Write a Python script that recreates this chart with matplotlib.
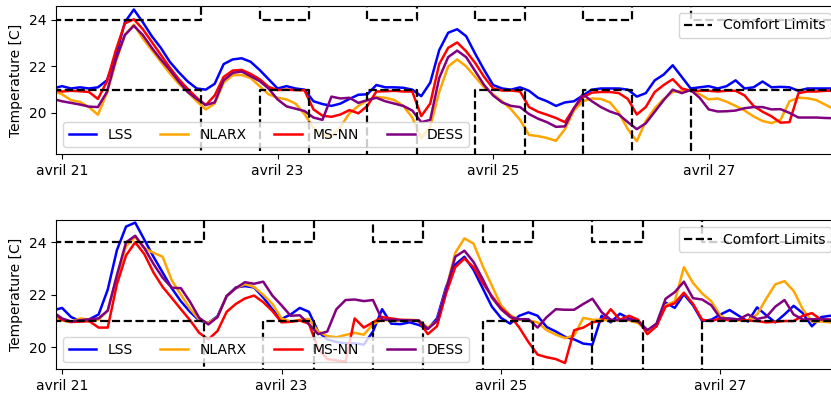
import numpy as np
import matplotlib
matplotlib.use("Agg")
import matplotlib.pyplot as plt

# time grid: hours after 21 April 00:00, one point every 2 h
hours = np.arange(-2, 176, 2)

# ---- upper panel ----
top_lss = [21.05, 21.15, 21.05, 21.1, 21.05, 21.1, 21.4, 22.45, 23.9, 24.45,
           23.9, 23.3, 22.8, 22.2, 21.75, 21.35, 21.05, 21.0, 21.25, 22.1,
           22.3, 22.35, 22.2, 21.85, 21.45, 21.05, 21.15, 21.05, 21.0, 20.5,
           20.38, 20.3, 20.4, 20.6, 20.78, 20.8, 21.2, 21.1, 21.1, 21.08,
           21.0, 20.72, 21.3, 22.7, 23.45, 23.6, 23.3, 22.55, 21.85, 21.2,
           21.05, 21.0, 21.1, 20.95, 20.65, 20.5, 20.3, 20.45, 20.5, 20.75,
           21.0, 21.05, 21.05, 21.05, 21.0, 20.7, 20.85, 21.4, 21.65, 22.05,
           21.55, 21.05, 21.1, 21.15, 21.05, 21.15, 21.4, 21.05, 21.1, 21.35,
           21.1, 21.12, 21.1, 20.95, 21.05, 21.05, 21.05, 21.05, 21.05]
top_nlarx = [20.95, 20.8, 20.55, 20.47, 20.25, 19.92, 20.85, 22.2, 23.35, 23.8,
             23.2, 22.7, 22.2, 21.7, 21.25, 20.9, 20.5, 20.15, 20.4, 21.3,
             21.62, 21.63, 21.5, 21.15, 20.8, 20.65, 20.58, 20.4, 19.95, 19.35,
             19.05, 18.98, 19.4, 19.98, 20.3, 20.55, 20.68, 20.65, 20.55, 20.3,
             19.8, 18.9, 19.4, 20.9, 22.0, 22.3, 22.0, 21.55, 21.1, 20.8,
             20.5, 20.15, 19.7, 19.05, 19.0, 18.92, 18.8, 19.3, 20.1, 20.5,
             20.62, 20.6, 20.45, 20.0, 19.3, 18.78, 19.65, 20.2, 20.6, 20.9,
             20.95, 20.98, 20.8, 20.58, 20.62, 20.48, 20.3, 20.1, 19.85, 19.65,
             19.56, 19.7, 20.5, 20.65, 20.63, 20.55, 20.35, 20.15, 20.05]
top_msnn = [20.98, 20.92, 20.95, 20.93, 20.9, 20.6, 21.35, 22.7, 23.85, 24.03,
            23.6, 23.05, 22.5, 21.95, 21.45, 21.03, 20.65, 20.33, 20.75, 21.55,
            21.82, 21.85, 21.68, 21.45, 21.12, 20.98, 21.0, 20.98, 20.97, 20.15,
            19.88, 19.83, 19.93, 20.12, 19.98, 20.3, 20.92, 20.93, 20.95, 20.92,
            20.92, 19.86, 20.4, 22.1, 22.8, 23.03, 22.65, 22.15, 21.55, 21.05,
            20.96, 20.96, 20.92, 20.25, 20.05, 19.92, 19.78, 19.6, 20.2, 20.68,
            20.87, 20.9, 20.9, 20.85, 20.6, 19.93, 20.25, 20.9, 21.2, 21.45,
            21.05, 20.95, 20.95, 20.95, 20.92, 20.95, 20.95, 20.75, 20.3, 20.05,
            19.85, 19.58, 19.6, 20.85, 20.92, 20.92, 20.95, 20.95, 20.95]
top_dess = [20.6, 20.5, 20.43, 20.36, 20.27, 20.25, 20.9, 22.3, 23.35, 23.75,
            23.35, 22.8, 22.3, 21.85, 21.35, 20.9, 20.6, 20.34, 20.45, 21.4,
            21.72, 21.78, 21.58, 21.37, 21.05, 20.58, 20.28, 20.18, 20.08, 19.8,
            19.7, 20.7, 20.62, 20.65, 20.43, 20.55, 20.65, 20.5, 20.4, 20.3,
            20.1, 19.6, 19.7, 21.5, 22.4, 22.68, 22.4, 21.8, 21.2, 20.75,
            20.45, 20.3, 20.25, 19.95, 19.75, 19.6, 19.4, 19.42, 20.2, 20.8,
            20.5, 20.25, 20.06, 19.93, 19.6, 19.3, 19.55, 20.05, 20.55, 21.0,
            20.85, 20.98, 20.65, 20.15, 20.06, 20.07, 20.1, 20.2, 20.25, 20.25,
            20.15, 20.16, 20.0, 19.8, 19.8, 19.8, 19.78, 19.77, 19.77]

# ---- lower panel ----
bot_lss = [21.4, 21.5, 21.15, 21.0, 21.07, 21.25, 22.2, 23.7, 24.6, 24.75,
           24.1, 23.45, 22.85, 22.25, 21.75, 21.35, 21.02, 20.93, 21.18, 21.95,
           22.28, 22.33, 22.28, 21.9, 21.45, 21.08, 21.25, 21.5, 21.35, 20.6,
           20.3, 20.2, 20.15, 20.15, 20.1, 20.6, 21.45, 20.9, 20.88, 20.95,
           20.85, 20.7, 21.1, 22.3, 23.15, 23.45, 22.95, 22.25, 21.55, 21.12,
           20.9, 21.2, 21.33, 21.2, 20.77, 20.6, 20.4, 20.3, 20.14, 20.1,
           21.2, 20.95, 21.28, 21.1, 21.0, 20.65, 20.8, 21.7, 21.5, 22.02,
           21.6, 21.0, 21.05, 21.25, 21.42, 21.2, 20.98, 21.52, 21.22, 20.95,
           21.25, 21.58, 21.3, 20.8, 21.15, 21.2, 21.2, 21.2, 21.2]
bot_nlarx = [21.08, 21.02, 20.97, 21.1, 21.05, 21.05, 21.4, 22.65, 23.85, 24.2,
             23.78, 23.6, 23.45, 22.55, 22.0, 21.47, 21.05, 20.93, 21.15, 21.95,
             22.25, 22.4, 22.3, 22.0, 21.65, 21.1, 20.98, 21.05, 21.08, 20.6,
             20.43, 20.38, 20.47, 20.55, 20.48, 20.88, 21.05, 21.0, 21.02, 21.05,
             21.03, 20.75, 21.0, 22.2, 23.6, 24.15, 23.95, 23.1, 22.35, 21.6,
             21.22, 21.05, 21.02, 20.95, 20.65, 20.48, 20.35, 20.45, 21.12, 21.05,
             21.05, 21.0, 21.03, 21.02, 20.92, 20.62, 20.88, 21.6, 21.75, 23.05,
             22.45, 22.05, 21.75, 21.2, 21.03, 21.02, 21.03, 21.25, 21.85, 22.4,
             22.52, 22.15, 21.45, 20.98, 20.98, 20.95, 20.95, 20.95, 20.95]
bot_msnn = [21.3, 21.05, 20.96, 20.98, 20.99, 20.75, 20.75, 22.4, 23.5, 24.0,
            23.55, 22.85, 22.3, 21.88, 21.45, 21.03, 20.55, 20.3, 20.62, 21.35,
            21.65, 21.86, 21.97, 21.72, 21.38, 20.95, 20.97, 21.02, 20.9, 19.95,
            19.55, 19.5, 19.45, 21.1, 20.75, 20.95, 21.15, 21.1, 21.05, 21.03,
            21.0, 20.5, 20.8, 22.05, 23.05, 23.38, 23.05, 22.45, 21.95, 21.5,
            21.2, 20.75, 20.2, 19.72, 19.62, 19.55, 19.4, 20.65, 20.75, 20.95,
            21.0, 21.45, 21.05, 21.2, 21.05, 20.5, 20.8, 21.55, 21.68, 22.08,
            21.65, 21.05, 21.0, 21.1, 21.02, 21.05, 21.02, 21.0, 20.95, 20.97,
            21.0, 21.0, 21.2, 21.3, 21.05, 21.05, 21.05, 21.05, 21.05]
bot_dess = [21.35, 21.1, 20.98, 21.03, 21.07, 21.1, 21.4, 22.75, 24.0, 24.25,
            23.78, 23.18, 22.65, 22.27, 22.25, 21.73, 21.12, 20.87, 21.15, 21.95,
            22.25, 22.48, 22.42, 22.5, 21.97, 21.6, 21.2, 21.22, 20.88, 20.5,
            20.6, 21.45, 21.8, 21.82, 21.76, 21.8, 21.05, 21.05, 21.03, 21.03,
            21.02, 20.7, 21.0, 22.2, 23.45, 23.68, 23.25, 22.6, 21.9, 21.45,
            21.15, 21.07, 21.07, 20.75, 21.15, 21.45, 21.43, 21.43, 21.65, 21.85,
            21.34, 21.05, 21.03, 21.06, 20.98, 20.65, 20.9, 21.85, 22.1, 22.5,
            21.87, 21.82, 21.6, 21.1, 21.1, 21.06, 21.25, 21.08, 21.15, 21.55,
            21.8, 21.25, 21.06, 21.07, 21.07, 21.05, 21.05, 21.05, 21.05]

# comfort limits: 21-24 C outside the 07:00-20:00 weekday slots
lim_hours = [-2, 31, 44, 55, 68, 79, 92, 103, 116, 127, 140, 176]
lim_upper = [24, 30, 24, 30, 24, 30, 24, 30, 24, 30, 24, 24]
lim_lower = [21, 15, 21, 15, 21, 15, 21, 15, 21, 15, 21, 21]

tick_days = [0, 2, 4, 6]
tick_labels = ["avril 21", "avril 23", "avril 25", "avril 27"]

base = np.datetime64("2019-04-21T00:00")
def to_time(h):
    return base + (np.asarray(h, dtype=float) * 60).astype("timedelta64[m]")

t = to_time(hours)
t_lim = to_time(lim_hours)

fig = plt.figure(figsize=(8.31, 3.99), dpi=100)
ax1 = fig.add_axes([0.0674, 0.614, 0.941, 0.371])
ax2 = fig.add_axes([0.0674, 0.0744, 0.941, 0.3742])

panels = [(ax1, top_lss, top_nlarx, top_msnn, top_dess, (-80, 10368), (18.23, 24.6)),
          (ax2, bot_lss, bot_nlarx, bot_msnn, bot_dess, (-79, 10182), (19.16, 24.85))]

for ax, lss, nlarx, msnn, dess, xl, yl in panels:
    l1, = ax.plot(t, lss, color="blue", lw=1.8, label="LSS")
    l2, = ax.plot(t, nlarx, color="orange", lw=1.8, label="NLARX")
    l3, = ax.plot(t, msnn, color="red", lw=1.8, label="MS-NN")
    l4, = ax.plot(t, dess, color="purple", lw=1.8, label="DESS")
    cl, = ax.step(t_lim, lim_upper, where="post", color="black", ls="--", lw=1.6,
                  label="Comfort Limits")
    ax.step(t_lim, lim_lower, where="post", color="black", ls="--", lw=1.6)
    leg = ax.legend(handles=[l1, l2, l3, l4], loc="lower left", ncol=4, fontsize=10)
    ax.add_artist(leg)
    ax.legend(handles=[cl], loc="upper right", fontsize=10)
    ax.set_xlim(base + np.timedelta64(xl[0], "m"), base + np.timedelta64(xl[1], "m"))
    ax.set_ylim(*yl)
    ax.set_xticks(to_time(np.array(tick_days) * 24))
    ax.set_xticklabels(tick_labels, fontsize=10)
    ax.set_yticks([20, 22, 24])
    ax.tick_params(labelsize=10)
    ax.set_ylabel("Temperature [C]", fontsize=10)

fig.savefig("out.png", dpi=100)
